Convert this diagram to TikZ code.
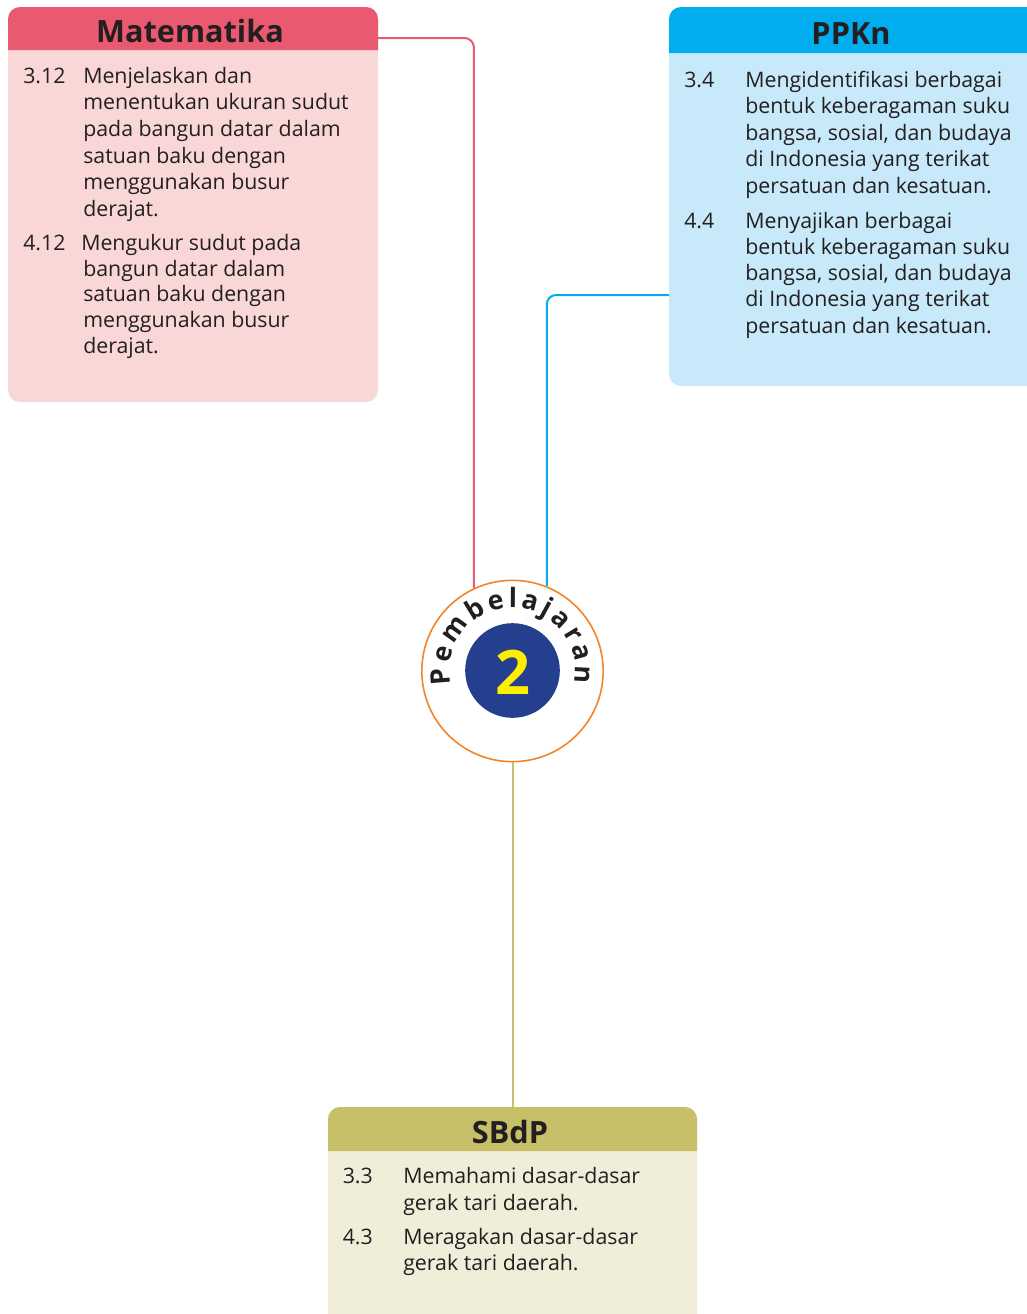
\documentclass[tikz,border=0pt]{standalone}
\usepackage{fontspec}
\setmainfont{Open Sans}
\usetikzlibrary{decorations.text}
\definecolor{mathead}{HTML}{E95A70}
\definecolor{matbody}{HTML}{F9D7D7}
\definecolor{ppkhead}{HTML}{00AEEF}
\definecolor{ppkbody}{HTML}{C8E9F9}
\definecolor{sbhead}{HTML}{C8BF69}
\definecolor{sbbody}{HTML}{F0EDD9}
\definecolor{ringc}{HTML}{F58426}
\definecolor{innerc}{HTML}{243F8E}
\definecolor{twoc}{HTML}{FFEE00}
\definecolor{txt}{HTML}{231F20}
\tikzset{
  itemnum/.style={inner sep=0pt, anchor=base west, text=txt, font=\fontsize{16}{20}\selectfont},
  itemtxt/.style={inner sep=0pt, anchor=base west, text=txt, font=\fontsize{16}{20}\selectfont},
  headtxt/.style={inner sep=0pt, anchor=base, text=txt, font=\fontsize{23}{26}\selectfont\bfseries},
  conn/.style={line width=1.5pt, rounded corners=7pt},
}
\newcommand{\itemlines}[2]{\parbox[t]{320pt}{\fontsize{16}{#1}\selectfont\raggedright #2}}
\begin{document}
\begin{tikzpicture}[x=0.75pt,y=-0.75pt]
\useasboundingbox (0,0) rectangle (1027,1314);
\clip (0,0) rectangle (1027,1314);

% ---- Matematika box
\fill[matbody, rounded corners=9pt] (8,7) rectangle (378,402);
\fill[mathead] (8,50) [rounded corners=9pt] -- (8,7) -- (378,7) [sharp corners] -- (378,50) -- cycle;
\node[headtxt] (mathd) at (190,42.7) {Matematika};
\node[itemnum] (m1n) at (23,83.3) {3.12};
\node[itemtxt] (m1t) at (83,83.3) {\itemlines{20pt}{Menjelaskan dan\\menentukan ukuran sudut\\pada bangun datar dalam\\satuan baku dengan\\menggunakan busur\\derajat.}};
\node[itemnum] (m2n) at (23,250.7) {4.12};
\node[itemtxt] (m2t) at (83,250.7) {\itemlines{19.2pt}{\hspace*{-1.5pt}Mengukur sudut pada\\bangun datar dalam\\satuan baku dengan\\menggunakan busur\\derajat.}};
\coordinate (mj) at (378,38);

% ---- PPKn box
\fill[ppkbody, rounded corners=9pt] (669,7) rectangle (1045,386);
\fill[ppkhead] (669,53) [rounded corners=9pt] -- (669,7) -- (1045,7) [sharp corners] -- (1045,53) -- cycle;
\node[headtxt] (ppkhd) at (851,44) {PPKn};
\node[itemnum] (p1n) at (684,87) {3.4};
\node[itemtxt] (p1t) at (745,87) {\itemlines{19.9pt}{Mengidentifikasi berbagai\\bentuk keberagaman suku\\bangsa, sosial, dan budaya\\di Indonesia yang terikat\\persatuan dan kesatuan.}};
\node[itemnum] (p2n) at (684,228) {4.4};
\node[itemtxt] (p2t) at (745,228) {\itemlines{19.7pt}{Menyajikan berbagai\\bentuk keberagaman suku\\bangsa, sosial, dan budaya\\di Indonesia yang terikat\\persatuan dan kesatuan.}};
\coordinate (pj) at (669,295);

% ---- SBdP box
\fill[sbbody, rounded corners=9pt] (328,1107) rectangle (697,1335);
\fill[sbhead] (328,1151) [rounded corners=9pt] -- (328,1107) -- (697,1107) [sharp corners] -- (697,1151) -- cycle;
\node[headtxt] (sbhd) at (510,1143) {SBdP};
\node[itemnum] (s1n) at (342.5,1183.3) {3.3};
\node[itemtxt] (s1t) at (403,1183.3) {\itemlines{20.2pt}{Memahami dasar-dasar\\gerak tari daerah.}};
\node[itemnum] (s2n) at (342.5,1244) {4.3};
\node[itemtxt] (s2t) at (403,1244) {\itemlines{20.2pt}{Meragakan dasar-dasar\\gerak tari daerah.}};
\coordinate (sj) at (512.5,1107);

% ---- central circle
\node[circle, draw=ringc, fill=white, line width=1.2pt, minimum size=136pt, inner sep=0pt] (c) at (512.5,671) {};
\node[circle, fill=innerc, minimum size=71pt, inner sep=0pt] (ci) at (512.5,670.5) {};
\node[inner sep=0pt, anchor=base, text=twoc, font=\fontsize{46}{50}\selectfont\bfseries] (two) at (512.5,694) {2};
\path[decorate, decoration={text along path, text align={fit to path},
  text={|\fontsize{20}{24}\selectfont\bfseries\color{txt}|Pembelajaran}}]
  (c.center) ++(168:63) arc[start angle=168, end angle=371, radius=63];

% ---- connectors
\draw[conn, draw=mathead] (mj) -| (c.115.7);
\draw[conn, draw=ppkhead] (pj) -| (c.68.4);
\draw[line width=1.5pt, draw=sbhead] (c.south) -- (sj);
\end{tikzpicture}
\end{document}
